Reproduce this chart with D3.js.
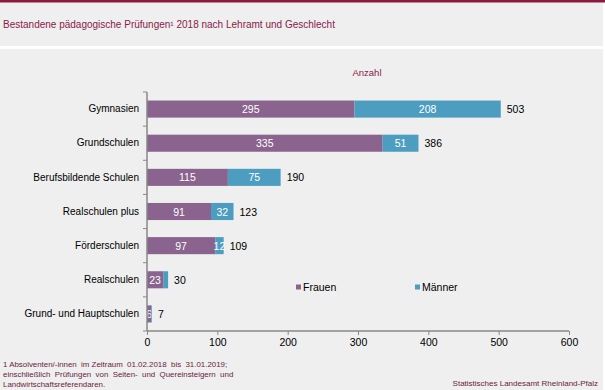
<!DOCTYPE html>
<html><head><meta charset="utf-8">
<script src="https://cdn.jsdelivr.net/npm/d3@7"></script>
<style>
html,body{margin:0;padding:0;background:#fff;}
svg{display:block;font-family:"Liberation Sans",Arial,sans-serif;}
</style></head>
<body><svg id="c" width="605" height="390"></svg>
<script>
const categories = ["Gymnasien","Grundschulen","Berufsbildende Schulen","Realschulen plus","Förderschulen","Realschulen","Grund- und Hauptschulen"];
const frauen = [295,335,115,91,97,23,6];
const maenner = [208,51,75,32,12,7,1];
const totals = [503,386,190,123,109,30,7];
const xTicks = [0,100,200,300,400,500,600];
const seriesNames = ["Frauen","Männer"];
const colors = ["#8a648e","#4d9dc0"];

const svg = d3.select("#c");
svg.append("rect").attr("x",0).attr("y",0).attr("width",603).attr("height",390).attr("fill","#eeefee");
svg.append("rect").attr("x",0).attr("y",0).attr("width",605).attr("height",2.5).attr("fill","#8b1a3c");
svg.append("rect").attr("x",0).attr("y",46).attr("width",605).attr("height",3).attr("fill","#ffffff");
svg.append("text").attr("x",3).attr("y",28).attr("font-size",10).attr("fill","#8b1a4a")
  .text("Bestandene pädagogische Prüfungen¹ 2018 nach Lehramt und Geschlecht");
svg.append("text").attr("x",367).attr("y",76).attr("text-anchor","middle").attr("font-size",9.5).attr("fill","#8b1a4a").text("Anzahl");

const x = d3.scaleLinear().domain([0,600]).range([147,569]);
const y = d3.scaleBand().domain(categories).range([92,331]).paddingInner(0.5).paddingOuter(0.25);

const rows = categories.map((c,i)=>({c, f:frauen[i], m:maenner[i], t:totals[i]}));
const g = svg.append("g");
rows.forEach(r=>{
  const segs = [{v0:0,v1:r.f,col:colors[0],lab:r.f,min:4},{v0:r.f,v1:r.f+r.m,col:colors[1],lab:r.m,min:8}];
  segs.forEach((s,k)=>{
    g.append("rect").attr("x",x(s.v0)).attr("y",y(r.c)).attr("width",x(s.v1)-x(s.v0)).attr("height",y.bandwidth()).attr("fill",s.col);
    const w = x(s.v1)-x(s.v0);
    if (w >= s.min) {
      g.append("text").attr("x",(x(s.v0)+x(s.v1))/2).attr("y",y(r.c)+y.bandwidth()/2+4)
        .attr("text-anchor","middle").attr("font-size",10.5).attr("fill","#ffffff").text(s.lab);
    }
  });
  g.append("text").attr("x",x(r.t)+6).attr("y",y(r.c)+y.bandwidth()/2+4).attr("font-size",10.5).attr("fill","#000").text(r.t);
});

// y axis
const ya = svg.append("g").attr("transform",`translate(147,0)`)
  .call(d3.axisLeft(y).tickSize(0).tickPadding(8));
ya.select(".domain").remove();
ya.selectAll("text").attr("font-size",10).attr("fill","#000").attr("font-family","Liberation Sans, Arial, sans-serif");
svg.append("line").attr("x1",147).attr("x2",147).attr("y1",92).attr("y2",331).attr("stroke","#888").attr("stroke-width",1.5);
d3.range(0,8).forEach(i=>{
  const yy = 92 + (331-92)/7*i;
  svg.append("line").attr("x1",143).attr("x2",147).attr("y1",yy).attr("y2",yy).attr("stroke","#888").attr("stroke-width",1);
});

// x axis
const xa = svg.append("g").attr("transform",`translate(0,331)`)
  .call(d3.axisBottom(x).tickValues(xTicks).tickSize(4).tickPadding(4));
xa.select(".domain").attr("stroke","#888").attr("stroke-width",1.5).attr("d","M147,0H569");
xa.selectAll(".tick line").attr("stroke","#888");
xa.selectAll("text").attr("font-size",10.5).attr("fill","#000").attr("font-family","Liberation Sans, Arial, sans-serif");

// legend
const lx = [296,415];
seriesNames.forEach((n,i)=>{
  svg.append("rect").attr("x",lx[i]).attr("y",284.5).attr("width",5).attr("height",5).attr("fill",colors[i]);
  svg.append("text").attr("x",lx[i]+7).attr("y",291).attr("font-size",10.5).attr("fill","#000").text(n);
});

// footnote
const fn = ["1 Absolventen/-innen  im Zeitraum  01.02.2018  bis  31.01.2019;",
            "einschließlich  Prüfungen  von  Seiten-  und  Quereinsteigern  und",
            "Landwirtschaftsreferendaren."];
fn.forEach((t,i)=>{
  svg.append("text").attr("x",3).attr("y",367+i*10).attr("font-size",7.9).attr("fill","#6a2440").attr("xml:space","preserve").text(t);
});
svg.append("text").attr("x",598).attr("y",386).attr("text-anchor","end").attr("font-size",8).attr("fill","#6a2440").text("Statistisches Landesamt  Rheinland-Pfalz");
</script></body></html>
